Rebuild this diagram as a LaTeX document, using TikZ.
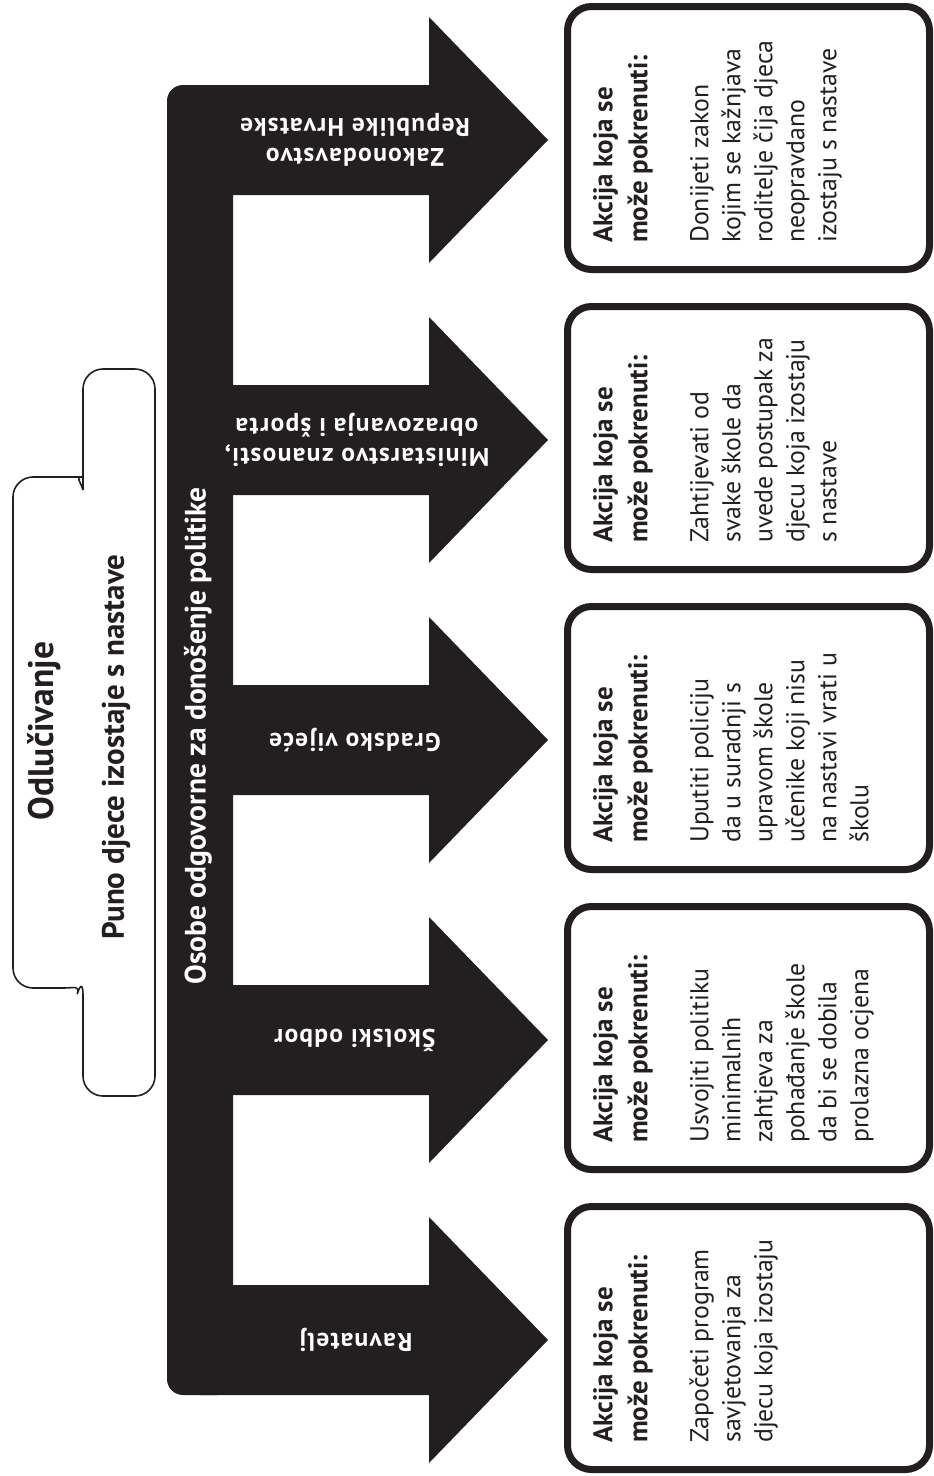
\documentclass[tikz,border=0pt]{standalone}
\usepackage{fontspec}
\setmainfont{PT Sans}
\newfontfamily\arrowfont{PT Sans}[LetterSpace=5.0]
\definecolor{ink}{HTML}{231F20}
\newcommand\acthd[1]{{\fontsize{27}{35}\selectfont\bfseries #1}}
\tikzset{
  arrowfill/.style={fill=ink},
  lbl/.style={rotate=180, align=center, text=white, inner sep=0pt,
    font=\arrowfont\bfseries\fontsize{25.5}{30}\selectfont},
  barlbl/.style={rotate=90, text=white, inner sep=0pt,
    font=\bfseries\fontsize{29.5}{32}\selectfont},
  actbox/.style={draw=ink, line width=7pt, rounded corners=24pt,
    minimum width=362pt, minimum height=263pt, inner sep=0pt},
  acttext/.style={rotate=90, anchor=north west, align=left, inner sep=0pt,
    text=ink, font=\fontsize{25.8}{32}\selectfont},
  titlebox/.style={draw=ink, line width=1.6pt},
  title/.style={rotate=90, inner sep=0pt, text=ink,
    font=\bfseries\fontsize{35.5}{40}\selectfont},
  subtitle/.style={rotate=90, inner sep=0pt, text=ink,
    font=\bfseries\fontsize{31}{34}\selectfont}
}
\begin{document}
\begin{tikzpicture}[x=1pt,y=-1pt]
\useasboundingbox (0,0) rectangle (934,1476);

% title box
\draw[titlebox] (83,490) [rounded corners=20pt] -- (83,369) -- (155,369) -- (155,1096) -- (83,1096) -- (83,975)
  [sharp corners] .. controls (80,985) and (75,988) .. (63,988)
  [rounded corners=20pt] -- (13,988) -- (13,477) -- (63,477)
  [sharp corners] .. controls (75,477) and (80,480) .. (83,490);
\node[title] (tit) at (44,731) {Odlučivanje};
\node[subtitle] (sub) at (116,747) {Puno djece izostaje s nastave};

% black bar with arrows
\fill[arrowfill, rounded corners=16pt] (167,85) rectangle (233,1395);
\foreach \cy in {140,440,740,1040,1340}{
  \fill[arrowfill] (200,\cy-55) -- (429,\cy-55) -- (429,\cy-123) -- (548,\cy)
    -- (429,\cy+123) -- (429,\cy+55) -- (200,\cy+55) -- cycle;
}
\node[barlbl] (osobe) at (198,736) {Osobe odgovorne za donošenje politike};

\node[lbl] (zak) at (355,140) {Zakonodavstvo\\Republike Hrvatske};
\node[lbl] (min) at (357,440) {Ministarstvo znanosti,\\obrazovanja i športa};
\node[lbl] (grad) at (355,740) {Gradsko vijeće};
\node[lbl] (skol) at (355,1040) {Školski odbor};
\node[lbl] (rav) at (356,1340) {Ravnatelj};

% action boxes
\node[actbox] (b1) at (748.5,138) {};
\node[actbox] (b2) at (748.5,438) {};
\node[actbox] (b3) at (748.5,738) {};
\node[actbox] (b4) at (748.5,1038) {};
\node[actbox] (b5) at (748.5,1338) {};

\node[acttext] (t1) at (593,243) {\acthd{Akcija koja se}\\[3pt]\acthd{može pokrenuti:}\\[29pt]Donijeti zakon\\kojim se kažnjava\\roditelje čija djeca\\neopravdano\\izostaju s nastave};
\node[acttext] (t2) at (593,543) {\acthd{Akcija koja se}\\[3pt]\acthd{može pokrenuti:}\\[29pt]Zahtijevati od\\svake škole da\\uvede postupak za\\djecu koja izostaju\\s nastave};
\node[acttext] (t3) at (593,843) {\acthd{Akcija koja se}\\[3pt]\acthd{može pokrenuti:}\\[29pt]Uputiti policiju\\da u suradnji s\\upravom škole\\učenike koji nisu\\na nastavi vrati u\\školu};
\node[acttext] (t4) at (593,1143) {\acthd{Akcija koja se}\\[3pt]\acthd{može pokrenuti:}\\[29pt]Usvojiti politiku\\minimalnih\\zahtjeva za\\pohađanje škole\\da bi se dobila\\prolazna ocjena};
\node[acttext] (t5) at (593,1443) {\acthd{Akcija koja se}\\[3pt]\acthd{može pokrenuti:}\\[29pt]Započeti program\\savjetovanja za\\djecu koja izostaju};
\end{tikzpicture}
\end{document}
